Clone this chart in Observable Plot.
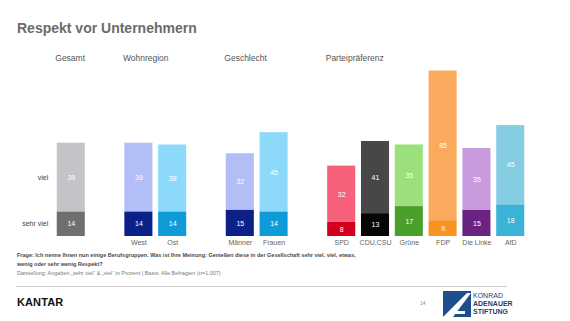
<!DOCTYPE html>
<html>
<head>
<meta charset="utf-8">
<script src="https://cdn.jsdelivr.net/npm/d3@7"></script>
<script src="https://cdn.jsdelivr.net/npm/@observablehq/plot@0.6"></script>
<style>
  html, body { margin: 0; padding: 0; background: #fff; }
  body { width: 570px; height: 321px; position: relative; overflow: hidden; font-family: "Liberation Sans", Arial, sans-serif; }
  #title { position: absolute; left: 17px; top: 20px; font-size: 14px; font-weight: bold; color: #6b6b6b; white-space: nowrap; }
  #chart { position: absolute; left: 0; top: 0; }
  .note { position: absolute; left: 17px; font-size: 5.5px; white-space: nowrap; }
  .q { color: #4a4a4a; font-weight: bold; }
  .d { color: #7a7a7a; }
  #rule { position: absolute; left: 16px; top: 286px; width: 491px; height: 0; border-top: 1px solid #cfcfcf; }
  #kantar { position: absolute; left: 17px; top: 296px; font-size: 11px; font-weight: bold; color: #111; letter-spacing: 0.1px; }
  #page { position: absolute; left: 420px; top: 300px; font-size: 5px; color: #888; }
  #kas { position: absolute; left: 443px; top: 291px; }
  #kastext { position: absolute; left: 473px; top: 292px; font-size: 7px; line-height: 8px; color: #1f3c6e; font-weight: bold; }
  #kastext span:first-child { font-weight: normal; }
</style>
</head>
<body>
<div id="title">Respekt vor Unternehmern</div>
<div id="chart"></div>
<div class="note q" style="top:252px">Frage: Ich nenne Ihnen nun einige Berufsgruppen. Was ist Ihre Meinung: Genießen diese in der Gesellschaft sehr viel, viel, etwas,</div>
<div class="note q" style="top:261px">wenig oder sehr wenig Respekt?</div>
<div class="note d" style="top:270px">Darstellung: Angaben „sehr viel“ &amp; „viel“ in Prozent | Basis: Alle Befragten (n=1.007)</div>
<div id="rule"></div>
<div id="kantar">KANTAR</div>
<div id="page">14</div>
<svg id="kas" width="28" height="26" viewBox="0 0 28 26">
  <polygon points="0,0 28,0 28,26 0,26" fill="#1f4e8c"/>
  <polygon points="0,26 24,2 28,2 10,26" fill="#fff"/>
  <polygon points="12,20 22,20 22,23 9,23" fill="#fff"/>
</svg>
<div id="kastext"><span>KONRAD</span><br>ADENAUER<br>STIFTUNG</div>
<script>
// ---- data ----
const categories = ["Gesamt","West","Ost","Männer","Frauen","SPD","CDU,CSU","Grüne","FDP","Die Linke","AfD"];
const sehrViel   = [14, 14, 14, 15, 14, 8, 13, 17, 9, 15, 18];
const viel       = [39, 39, 38, 32, 45, 32, 41, 35, 85, 35, 45];
const colorSehrViel = ["#6f6f6f","#0b2188","#0f9bd7","#0b2188","#0f9bd7","#d2001e","#050505","#4a9e2a","#f7931e","#6b2382","#3ab3d6"];
const colorViel     = ["#c4c4c8","#b3bdf6","#8cd9fa","#b3bdf6","#8cd9fa","#f7607a","#474747","#9be07a","#f9aa5c","#c99ade","#84cde2"];
const slots = ["Gesamt","_1","West","Ost","_2","Männer","Frauen","_3","SPD","CDU,CSU","Grüne","FDP","Die Linke","AfD"];
const groupLabels = ["Gesamt","Wohnregion","Geschlecht","Parteipräferenz"];
const groupFirst  = ["Gesamt","West","Männer","SPD"];
const seriesLabels = ["sehr viel","viel"];

// ---- build table ----
const rows = [];
categories.forEach((c, i) => {
  rows.push({cat: c, series: seriesLabels[0], value: sehrViel[i], y1: 0, y2: sehrViel[i], color: colorSehrViel[i]});
  rows.push({cat: c, series: seriesLabels[1], value: viel[i], y1: sehrViel[i], y2: sehrViel[i] + viel[i], color: colorViel[i]});
});
const gesamtRows = rows.filter(r => r.cat === "Gesamt");
const groups = groupLabels.map((g, i) => ({label: g, first: groupFirst[i]}));

const plot = Plot.plot({
  width: 570,
  height: 252,
  marginTop: 60,
  marginBottom: 16,
  marginLeft: 51,
  marginRight: 40,
  x: {domain: slots, padding: 0.17, round: false},
  y: {domain: [0, 100], axis: null},
  color: {type: "identity"},
  style: {fontFamily: "Liberation Sans, Arial, sans-serif"},
  marks: [
    Plot.rectY(rows, {x: "cat", y1: "y1", y2: "y2", fill: "color"}),
    Plot.text(rows, {x: "cat", y: d => (d.y1 + d.y2) / 2, text: d => String(d.value), fill: "white", fontSize: 7}),
    Plot.text(gesamtRows, {x: "cat", y: d => (d.y1 + d.y2) / 2, text: "series", textAnchor: "end", dx: -23, fill: "#444", fontSize: 7}),
    Plot.text(groups, {x: "first", text: "label", frameAnchor: "top", dy: -6, dx: -16, textAnchor: "start", fill: "#555", fontSize: 8.5}),
    Plot.axisX({tickSize: 0, tickPadding: 4, fontSize: 7, color: "#666", tickFormat: d => (d.startsWith("_") || d === "Gesamt") ? "" : d, label: null})
  ]
});
document.getElementById("chart").appendChild(plot);
</script>
</body>
</html>
